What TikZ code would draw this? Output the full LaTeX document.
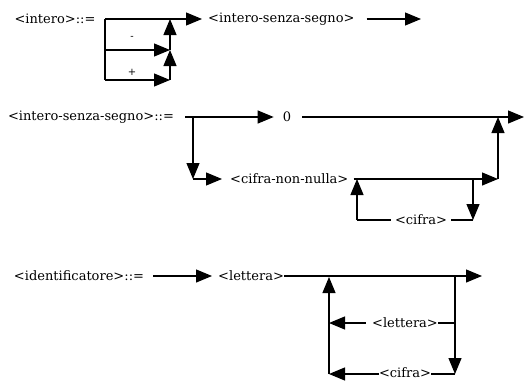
\documentclass[tikz,border=0pt]{standalone}
\usepackage{fontspec}
\setmainfont{DejaVu Serif}
\usetikzlibrary{arrows.meta}
\begin{document}
\begin{tikzpicture}[x=1pt,y=-1pt,
  lab/.style={inner sep=0pt, font=\fontsize{13}{15}\selectfont},
  sml/.style={inner sep=0pt, font=\fontsize{10}{12}\selectfont},
  ln/.style={line width=1.2pt},
  arr/.style={ln,-{Triangle[length=16pt,width=13pt]}},
]
\useasboundingbox (0,0) rectangle (525,381);

% ---------- diagram 1 ----------
\node[lab] (d1) at (55,19) {<intero>::=};
\node[lab,anchor=west] (isn) at (208,19) {<intero-senza-segno>};
\coordinate (a0) at (105,19);
\coordinate (a1) at (105,50);
\coordinate (a2) at (105,80);
\coordinate (j0) at (170,19);
\coordinate (j1) at (170,50);
\coordinate (j2) at (170,80);
\coordinate (e1) at (421,19);
\node[sml] (minus) at (132,38) {-};
\node[sml] (plus) at (132,72) {+};
\draw[arr] (a0) -- ([xshift=-6pt]isn.west);
\draw[ln] (a0) -- (a2);
\draw[arr] (a1) -- (j1);
\draw[arr] (a2) -- (j2);
\draw[arr] (j2) -- (j1);
\draw[arr] (j1) -- (j0);
\draw[arr] ([xshift=12pt]isn.east) -- (e1);

% ---------- diagram 2 ----------
\node[lab] (d2) at (91,117) {<intero-senza-segno>::=};
\coordinate (b0) at (185,117);
\coordinate (b1) at (193,117);
\coordinate (b2) at (193,179);
\node[lab] (zero) at (287,117) {0};
\coordinate (e2) at (524,117);
\node[lab,anchor=west] (cnn) at (230,179) {<cifra-non-nulla>};
\coordinate (c0) at (357,179);
\coordinate (c1) at (473,179);
\coordinate (c2) at (498,179);
\coordinate (c3) at (498,117);
\coordinate (c4) at (473,220);
\coordinate (c5) at (357,220);
\node[lab] (cif1) at (421,220) {<cifra>};
\draw[ln] (b0) -- (b1);
\draw[arr] (b1) -- ([xshift=-9pt]zero.west);
\draw[arr] ([xshift=11pt]zero.east) -- (e2);
\draw[arr] (b1) -- (b2);
\draw[arr] (b2) -- ([xshift=-8pt]cnn.west);
\draw[arr] ([xshift=5pt]cnn.east) -- (c2);
\draw[arr] (c2) -- (c3);
\draw[arr] (c1) -- (c4);
\draw[ln] (c4) -- ([xshift=4pt]cif1.east);
\draw[ln] ([xshift=-4pt]cif1.west) -- (c5);
\draw[arr] (c5) -- (c0);

% ---------- diagram 3 ----------
\node[lab] (d3) at (79,276) {<identificatore>::=};
\node[lab,anchor=west] (let1) at (218,276) {<lettera>};
\coordinate (f1) at (455,276);
\coordinate (f2) at (482,276);
\coordinate (f3) at (455,323);
\coordinate (f4) at (455,374);
\coordinate (g0) at (329,277);
\coordinate (g1) at (329,323);
\coordinate (g2) at (329,374);
\node[lab] (let2) at (405,323) {<lettera>};
\node[lab] (cif2) at (405,372.5) {<cifra>};
\draw[arr] ([xshift=9pt]d3.east) -- ([xshift=-6pt]let1.west);
\draw[arr] (let1.east) -- (f2);
\draw[arr] (f1) -- (f4);
\draw[ln] (f3) -- (let2.east);
\draw[arr] ([xshift=-6pt]let2.west) -- (g1);
\draw[ln] (f4) -- (f4 -| cif2.east);
\draw[arr] (g2 -| cif2.west) -- (g2);
\draw[arr] (g2) -- (g0);
\end{tikzpicture}
\end{document}
